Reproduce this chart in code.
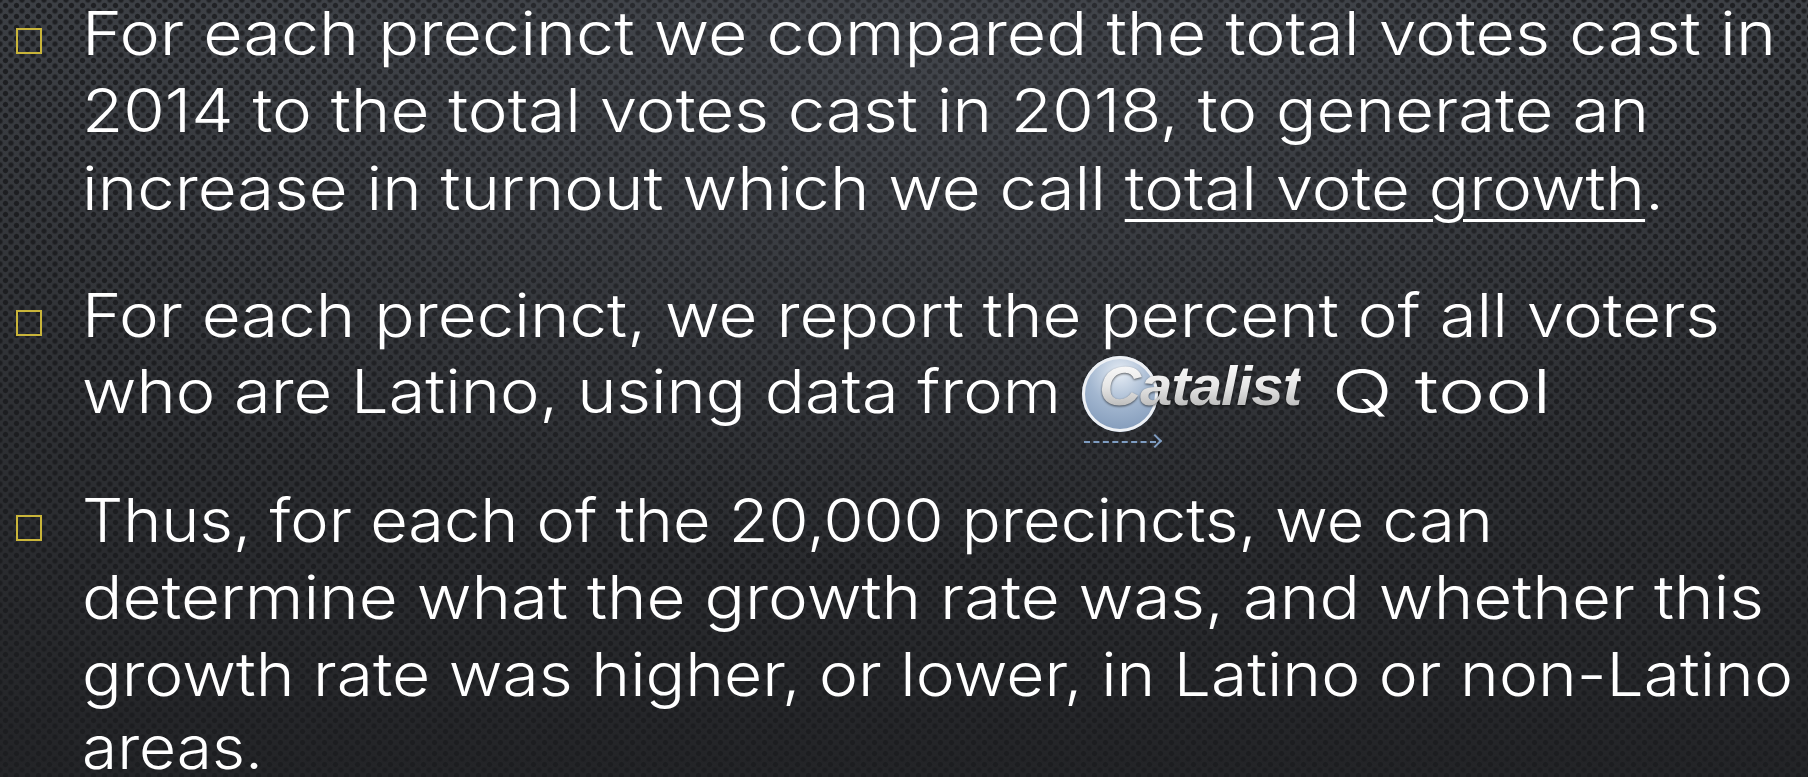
<!DOCTYPE html>
<html>
<head>
<meta charset="utf-8">
<script src="https://cdn.jsdelivr.net/npm/chart.js@4/dist/chart.umd.min.js"></script>
<style>
  html, body { margin: 0; padding: 0; }
  body {
    width: 1808px; height: 777px; overflow: hidden; position: relative;
    background:
      radial-gradient(ellipse 75% 90% at 50% 10%, rgba(80,84,92,0.35), rgba(0,0,0,0) 70%),
      radial-gradient(circle, #1c1d20 2.1px, rgba(0,0,0,0) 3.2px) 0 0 / 11px 11px,
      radial-gradient(circle, #1c1d20 2.1px, rgba(0,0,0,0) 3.2px) 5.5px 5.5px / 11px 11px,
      linear-gradient(#3c3f44, #303236 45%, #232427);
    font-family: "Inter", "DejaVu Sans", sans-serif;
    color: #fff;
  }
  .line {
    position: absolute; left: 82px; white-space: nowrap;
    font-size: 60px; font-weight: 300; line-height: 56px; transform-origin: 0 0;
  }
  .bullet {
    position: absolute; left: 16px; width: 22px; height: 22px;
    border: 2.5px solid #c9b53a;
  }
  .ul { text-decoration: underline; text-decoration-thickness: 3px; text-underline-offset: 9px; }
  #logo { position: absolute; left: 1082px; top: 356px; width: 230px; height: 90px; }
  #logo .ball {
    position: absolute; left: 0; top: 0; width: 76px; height: 76px; border-radius: 50%;
    background: radial-gradient(circle at 50% 22%, #e6edf5, #a3b7d0 45%, #7690b2);
    box-shadow: 0 0 0 3px #eef1f5 inset;
  }
  #logo .word {
    position: absolute; left: 17px; top: 2px; white-space: nowrap; transform-origin: 0 0;
    font-family: "Liberation Sans", sans-serif; font-weight: bold; font-style: italic;
    font-size: 56px; line-height: 56px; letter-spacing: -1px;
    background: linear-gradient(#ffffff, #e6e6e6 50%, #adadad);
    -webkit-background-clip: text; background-clip: text; color: transparent;
    filter: drop-shadow(0 1px 1px rgba(0,0,0,0.6));
  }
  #logo .arrow {
    position: absolute; left: 2px; top: 85px; width: 72px; height: 0;
    border-top: 2px dashed #7f9dc2;
  }
  #logo .tip {
    position: absolute; left: 68px; top: 80px; width: 8px; height: 8px;
    border-right: 2px solid #7f9dc2; border-bottom: 2px solid #7f9dc2; transform: rotate(-45deg);
  }
</style>
</head>
<body>
<div id="slide"></div>
<div id="logo"><div class="ball"></div><div class="word">Catalist</div><div class="arrow"></div><div class="tip"></div></div>
<script>
// slide text, one entry per rendered line
const paragraphs = [
  ['For each precinct we compared the total votes cast in',
   '2014 to the total votes cast in 2018, to generate an',
   'increase in turnout which we call <span class="ul">total vote growth</span>.'],
  ['For each precinct, we report the percent of all voters',
   'who are Latino, using data from'],
  ['Thus, for each of the 20,000 precincts, we can',
   'determine what the growth rate was, and whether this',
   'growth rate was higher, or lower, in Latino or non-Latino',
   'areas.']
];
const baselines = [[55, 132, 210], [337, 413], [542, 619, 696, 769]];
const rightEdges = [[1776, 1649, 1664], [1720, 1061], [1493, 1764, 1793, 263]];

const slide = document.getElementById('slide');

function addLine(html, left, baseline, right) {
  const d = document.createElement('div');
  d.className = 'line';
  d.innerHTML = html;
  d.style.left = left + 'px';
  slide.appendChild(d);
  // put the text baseline where the slide has it
  const probe = document.createElement('span');
  probe.style.cssText = 'display:inline-block;width:0;height:0;vertical-align:baseline';
  d.appendChild(probe);
  const off = probe.getBoundingClientRect().top - d.getBoundingClientRect().top;
  d.removeChild(probe);
  d.style.top = (baseline - off) + 'px';
  const w = d.getBoundingClientRect().width;
  d.style.transform = 'scaleX(' + ((right - left) / w) + ')';
}

paragraphs.forEach((lines, p) => {
  const b = document.createElement('div');
  b.className = 'bullet';
  b.style.top = (baselines[p][0] - 27) + 'px';
  slide.appendChild(b);
  lines.forEach((txt, i) => addLine(txt, 82, baselines[p][i], rightEdges[p][i]));
});
// text after the logo
addLine('Q tool', 1332, 413, 1551);

const word = document.querySelector('#logo .word');
word.style.transform = 'scaleX(' + (202 / word.getBoundingClientRect().width) + ')';
</script>
</body>
</html>
